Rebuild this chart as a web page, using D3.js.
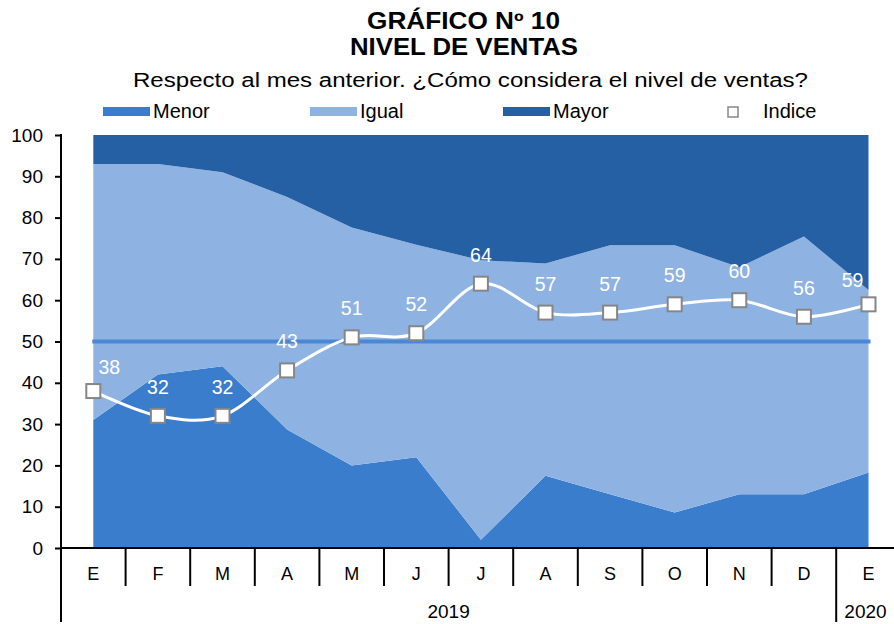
<!DOCTYPE html>
<html>
<head>
<meta charset="utf-8">
<script src="https://cdn.jsdelivr.net/npm/d3@7"></script>
<style>
  body { margin: 0; background: #fff; }
  svg text { font-family: "Liberation Sans", Arial, sans-serif; }
</style>
</head>
<body>
<div id="chart"></div>
<script>
  var months = ['E', 'F', 'M', 'A', 'M', 'J', 'J', 'A', 'S', 'O', 'N', 'D', 'E'];
  var years = [{label: '2019', from: 0, to: 11}, {label: '2020', from: 12, to: 12}];

  // shares of answers, in percent
  var menor = [31, 42, 44, 28.7, 20, 22, 2, 17.5, 13, 8.6, 13, 13, 18.3];
  var igual = [62, 51, 47, 56.3, 57.6, 51.4, 67.7, 51.4, 60.3, 64.7, 55, 62.4, 44.2];
  var mayor = [7, 7, 9, 15, 22.4, 26.6, 30.3, 31.1, 26.7, 26.7, 32, 24.6, 37.5];
  var indice = [38, 32, 32, 43, 51, 52, 64, 57, 57, 59, 60, 56, 59];
  var neutral = 50;
  var yTicks = [0, 10, 20, 30, 40, 50, 60, 70, 80, 90, 100];

  var colors = {
    menor : '#3b7dcd',
    igual : '#8eb3e2',
    mayor : '#2660a4',
    ref :   '#4a88d6'
  };

  var width = 894,
      height = 624,
      plotLeft = 61,
      plotTop = 135,
      plotBottom = 548;

  var svg = d3.select('#chart')
    .append('svg')
    .attr('width', width)
    .attr('height', height);

  var idx = d3.range(months.length);

  var x = d3.scaleBand()
    .domain(idx)
    .range([plotLeft, plotLeft + 13 * 64.6])
    .padding(0);

  var cx = function(i) { return x(i) + x.bandwidth() / 2; };

  var y = d3.scaleLinear()
    .domain([0, 100])
    .range([plotBottom, plotTop]);

  // titles
  svg.append('text')
    .attr('x', 367).attr('y', 29)
    .attr('textLength', 193).attr('lengthAdjust', 'spacingAndGlyphs')
    .style('font-size', '23px').style('font-weight', 'bold')
    .text('GRÁFICO Nº 10');
  svg.append('text')
    .attr('x', 350).attr('y', 55)
    .attr('textLength', 228).attr('lengthAdjust', 'spacingAndGlyphs')
    .style('font-size', '23px').style('font-weight', 'bold')
    .text('NIVEL DE VENTAS');
  svg.append('text')
    .attr('x', 133).attr('y', 87)
    .attr('textLength', 675).attr('lengthAdjust', 'spacingAndGlyphs')
    .style('font-size', '20px')
    .text('Respecto al mes anterior. ¿Cómo considera el nivel de ventas?');

  // stacked areas
  var rows = idx.map(function(i) {
    return {i: i, menor: menor[i], igual: igual[i], mayor: mayor[i]};
  });
  var stack = d3.stack().keys(['menor', 'igual', 'mayor']);
  var area = d3.area()
    .x(function(d) { return cx(d.data.i); })
    .y0(function(d) { return y(d[0]); })
    .y1(function(d) { return y(d[1]); });

  svg.append('g').selectAll('path')
    .data(stack(rows))
    .join('path')
    .attr('d', area)
    .attr('fill', function(d) { return colors[d.key]; });

  // reference line at 50
  svg.append('line')
    .attr('x1', cx(0) - 1).attr('x2', cx(12) + 2)
    .attr('y1', y(neutral)).attr('y2', y(neutral))
    .attr('stroke', colors.ref)
    .attr('stroke-width', 4);

  // index line
  var line = d3.line()
    .x(function(d, i) { return cx(i); })
    .y(function(d) { return y(d); })
    .curve(d3.curveCardinal);

  svg.append('path')
    .datum(indice)
    .attr('d', line)
    .attr('fill', 'none')
    .attr('stroke', '#fff')
    .attr('stroke-width', 3);

  svg.append('g').selectAll('rect')
    .data(indice)
    .join('rect')
    .attr('x', function(d, i) { return cx(i) - 7; })
    .attr('y', function(d) { return y(d) - 7; })
    .attr('width', 14).attr('height', 14)
    .attr('fill', '#fff')
    .attr('stroke', '#868686')
    .attr('stroke-width', 2);

  svg.append('g').selectAll('text')
    .data(indice)
    .join('text')
    .attr('x', function(d, i) {
      if (i === 0) return cx(i) + 16;
      if (i === indice.length - 1) return cx(i) - 16;
      return cx(i);
    })
    .attr('y', function(d, i) {
      var off = (i === 0 || i === indice.length - 1) ? 17 : 22;
      return y(d) - off;
    })
    .attr('text-anchor', 'middle')
    .attr('fill', '#fff')
    .style('font-size', '19.5px')
    .text(function(d) { return d; });

  // y axis
  var yAxis = d3.axisLeft(y)
    .tickValues(yTicks)
    .tickSize(6)
    .tickPadding(12);
  var gy = svg.append('g')
    .attr('transform', 'translate(' + plotLeft + ',0)')
    .call(yAxis);
  gy.select('.domain').remove();
  gy.selectAll('.tick line').attr('stroke', '#000').attr('stroke-width', 2);
  gy.selectAll('.tick text')
    .attr('fill', '#000')
    .style('font-size', '19px')
    .style('font-family', '"Liberation Sans", Arial, sans-serif');
  svg.append('line')
    .attr('x1', plotLeft).attr('x2', plotLeft)
    .attr('y1', plotTop - 1).attr('y2', 622)
    .attr('stroke', '#000').attr('stroke-width', 2);

  // x axis
  svg.append('line')
    .attr('x1', plotLeft).attr('x2', width)
    .attr('y1', plotBottom).attr('y2', plotBottom)
    .attr('stroke', '#000').attr('stroke-width', 2);

  svg.append('g').selectAll('line')
    .data(idx.slice(1))
    .join('line')
    .attr('x1', function(i) { return x(i); })
    .attr('x2', function(i) { return x(i); })
    .attr('y1', plotBottom)
    .attr('y2', function(i) { return i === years[1].from ? 622 : 586; })
    .attr('stroke', '#000').attr('stroke-width', 2);

  svg.append('g').selectAll('text')
    .data(idx)
    .join('text')
    .attr('x', function(i) { return cx(i); })
    .attr('y', 580)
    .attr('text-anchor', 'middle')
    .style('font-size', '18px')
    .text(function(i) { return months[i]; });

  svg.append('g').selectAll('text')
    .data(years)
    .join('text')
    .attr('x', function(d) { return (cx(d.from) + cx(d.to)) / 2 + (d.from === 0 ? 0 : -3); })
    .attr('y', 618)
    .attr('text-anchor', 'middle')
    .style('font-size', '19px')
    .text(function(d) { return d.label; });

  // legend
  var legend = [
    {key: 'menor', label: 'Menor', x: 103},
    {key: 'igual', label: 'Igual', x: 310},
    {key: 'mayor', label: 'Mayor', x: 503}
  ];
  var lg = svg.append('g');
  lg.selectAll('rect')
    .data(legend)
    .join('rect')
    .attr('x', function(d) { return d.x; })
    .attr('y', 107)
    .attr('width', 47).attr('height', 9)
    .attr('fill', function(d) { return colors[d.key]; });
  lg.selectAll('text')
    .data(legend)
    .join('text')
    .attr('x', function(d) { return d.x + 50; })
    .attr('y', 118)
    .style('font-size', '20px')
    .text(function(d) { return d.label; });
  lg.append('rect')
    .attr('x', 728).attr('y', 107)
    .attr('width', 10).attr('height', 10)
    .attr('fill', '#fff')
    .attr('stroke', '#868686')
    .attr('stroke-width', 1.5);
  lg.append('text')
    .attr('x', 763).attr('y', 118)
    .style('font-size', '20px')
    .text('Indice');
</script>
</body>
</html>
